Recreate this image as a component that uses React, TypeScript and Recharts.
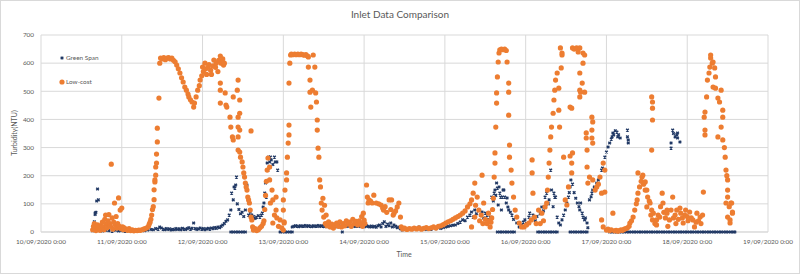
import React from "react";
import { ScatterChart, Scatter, XAxis, YAxis, CartesianGrid } from "recharts";

const FONT = "Lato, 'Open Sans', sans-serif";
const TEXT_GREY = "#595959";
const GRID_GREY = "#d9d9d9";
const NAVY = "#203864";
const ORANGE = "#ED7D31";

// x = days since 10/09/2020 0:00
const dayTicks = [0, 1, 2, 3, 4, 5, 6, 7, 8, 9];
const ntuTicks = [0, 100, 200, 300, 400, 500, 600, 700];
const seriesNames = ["Green Span", "Low-cost"];

// Green Span inlet sensor [day, NTU]
const greenSpan: [number, number][] = [
  [0.64, 5], [0.65, 7], [0.66, 36], [0.67, 67], [0.67, 62], [0.68, 70], [0.69, 110], [0.7, 153], [0.71, 114], [0.72, 20], [0.73, 8],
  [0.76, 4], [0.8, 6], [0.84, 5], [0.88, 3], [0.92, 6], [0.96, 4], [1.0, 5], [1.04, 3], [1.08, 4], [1.12, 6], [1.16, 5], [1.2, 4], [1.24, 6], [1.28, 5], [1.32, 7],
  [1.36, 9], [1.39, 8], [1.42, 12], [1.45, 10], [1.47, 18], [1.49, 14], [1.51, 10], [1.53, 8], [1.55, 12], [1.57, 9], [1.59, 11], [1.61, 7], [1.63, 10], [1.65, 8],
  [1.67, 12], [1.69, 9], [1.71, 11], [1.73, 8], [1.75, 13], [1.77, 10], [1.79, 9], [1.81, 12], [1.83, 15], [1.85, 10], [1.87, 13], [1.89, 32], [1.91, 12], [1.93, 9],
  [1.95, 11], [1.97, 14], [1.99, 10], [2.01, 12], [2.03, 8], [2.05, 11], [2.07, 13], [2.09, 10], [2.11, 14], [2.13, 12], [2.15, 16], [2.17, 13], [2.19, 18], [2.21, 15],
  [2.23, 20], [2.25, 25], [2.27, 30], [2.29, 38], [2.31, 43], [2.33, 60],
  [2.35, 78], [2.36, 138], [2.38, 114], [2.39, 160], [2.4, 156], [2.41, 167], [2.42, 195], [2.43, 100], [2.45, 80], [2.47, 65], [2.49, 70], [2.51, 55], [2.53, 78],
  [2.55, 167], [2.57, 60], [2.59, 70], [2.61, 60], [2.63, 55], [2.65, 48], [2.67, 53], [2.69, 58], [2.71, 53], [2.73, 60], [2.74, 67], [2.75, 89], [2.76, 103],
  [2.77, 138], [2.78, 174], [2.79, 124], [2.8, 245], [2.81, 220], [2.82, 266], [2.83, 249], [2.84, 266], [2.85, 256], [2.87, 240], [2.89, 266], [2.9, 249], [2.92, 249], [2.93, 220],
  [3.11, 18], [3.13, 20], [3.15, 22], [3.17, 21], [3.19, 19], [3.21, 22], [3.23, 20], [3.25, 21], [3.27, 23], [3.29, 20], [3.31, 22], [3.33, 21], [3.35, 19], [3.37, 22],
  [3.39, 20], [3.41, 21], [3.43, 23], [3.45, 20], [3.47, 22], [3.49, 21], [3.51, 19], [3.53, 22], [3.55, 20], [3.57, 21], [3.59, 23], [3.61, 20], [3.63, 22], [3.65, 21],
  [3.67, 19], [3.69, 22], [3.71, 20], [3.73, 0], [3.75, 21], [3.77, 23], [3.79, 20], [3.81, 22], [3.83, 21], [3.85, 19], [3.87, 22], [3.89, 20], [3.91, 21], [3.93, 23],
  [3.95, 20], [3.97, 22], [3.99, 21], [4.01, 19], [4.03, 22], [4.05, 20], [4.07, 18], [4.09, 21], [4.11, 18], [4.13, 20], [4.15, 17], [4.17, 22], [4.19, 25], [4.21, 18],
  [4.23, 30], [4.25, 36], [4.27, 20], [4.29, 28], [4.31, 22], [4.33, 32], [4.35, 18], [4.37, 25], [4.39, 20], [4.41, 15], [4.43, 18], [4.45, 12], [4.47, 7], [4.5, 10],
  [4.53, 8], [4.56, 12], [4.59, 10], [4.62, 14], [4.65, 12], [4.68, 18], [4.71, 11], [4.74, 13], [4.77, 9], [4.8, 12], [4.83, 10], [4.86, 14], [4.89, 12], [4.92, 15],
  [4.95, 13], [4.98, 16], [5.01, 18], [5.04, 20], [5.07, 22], [5.1, 24], [5.13, 25], [5.16, 30], [5.19, 35], [5.22, 43], [5.25, 40], [5.28, 53], [5.31, 60], [5.33, 71],
  [5.35, 53], [5.37, 78], [5.39, 65], [5.42, 78], [5.44, 60], [5.46, 71], [5.48, 50], [5.5, 67], [5.52, 60], [5.54, 45], [5.56, 53], [5.58, 124], [5.6, 110], [5.61, 138],
  [5.62, 149], [5.63, 130], [5.64, 174], [5.65, 156], [5.66, 96], [5.67, 160], [5.68, 138], [5.69, 124], [5.7, 78], [5.71, 124], [5.72, 149], [5.73, 149], [5.74, 124],
  [5.76, 103], [5.77, 121], [5.78, 89], [5.79, 78], [5.81, 70], [5.83, 60], [5.85, 45],
  [5.89, 32], [5.92, 18], [5.95, 25], [5.97, 35], [5.99, 43], [6.01, 30], [6.04, 53], [6.05, 67], [6.07, 45], [6.09, 60], [6.12, 40], [6.14, 55], [6.16, 78], [6.18, 65],
  [6.2, 89], [6.22, 75], [6.24, 124], [6.26, 138], [6.28, 100], [6.29, 114], [6.31, 220], [6.32, 149], [6.34, 90], [6.35, 138], [6.36, 124], [6.37, 124],
  [6.39, 53], [6.41, 32], [6.43, 25], [6.45, 43], [6.47, 60], [6.49, 78], [6.51, 103], [6.53, 124], [6.54, 140], [6.55, 160], [6.56, 185], [6.58, 170], [6.6, 140],
  [6.62, 120], [6.64, 103], [6.66, 90], [6.67, 78], [6.68, 103], [6.7, 67], [6.71, 53], [6.73, 43], [6.74, 50], [6.76, 32], [6.77, 15],
  [6.79, 114], [6.81, 125], [6.82, 138], [6.83, 149], [6.85, 160], [6.88, 174], [6.9, 185], [6.92, 195], [6.94, 220], [6.95, 227], [6.96, 245], [6.98, 266], [7.0, 284],
  [7.02, 302], [7.04, 316], [7.06, 330], [7.07, 338], [7.08, 352], [7.09, 345], [7.11, 360], [7.13, 355], [7.14, 338], [7.15, 345], [7.17, 334],
  [7.26, 362], [7.26, 338], [7.27, 316], [7.27, 327],
  [7.8, 316], [7.8, 298], [7.82, 362], [7.83, 350], [7.85, 338], [7.87, 345], [7.88, 334], [7.88, 352], [7.91, 320],
];

// Green Span readings that dropped out to 0 NTU
const greenSpanZeroDays = [
  2.35, 2.38, 2.41, 2.44, 2.47, 2.5, 2.53,
  2.96, 2.99, 3.02, 3.05, 3.08, 3.11,
  5.65, 5.68, 5.71, 5.74, 5.77, 5.8, 5.83, 5.86,
  6.15, 6.18, 6.21, 6.24, 6.27, 6.3, 6.33, 6.36, 6.39,
  6.55, 6.58, 6.61, 6.64, 6.67, 6.7, 6.73, 6.76,
  7.04, 7.07, 7.1, 7.13, 7.16, 7.19, 7.22, 7.25, 7.28, 7.31, 7.34, 7.37, 7.4, 7.43, 7.46, 7.49, 7.52, 7.55, 7.58, 7.61,
  7.64, 7.67, 7.7, 7.73, 7.76, 7.79, 7.82, 7.85, 7.88, 7.91, 7.94, 7.97, 8.0, 8.03, 8.06, 8.09, 8.12, 8.15, 8.18, 8.21,
  8.24, 8.27, 8.3, 8.33, 8.36, 8.39, 8.42, 8.45, 8.48, 8.51, 8.54, 8.57, 8.59,
];

// Low-cost inlet sensor [day, NTU]
const lowCost: [number, number][] = [
  [0.64, 8], [0.65, 20], [0.66, 30], [0.67, 12], [0.68, 5], [0.69, 18], [0.7, 25], [0.71, 10], [0.72, 15], [0.73, 6], [0.74, 22], [0.75, 12], [0.76, 35], [0.77, 18],
  [0.78, 8], [0.79, 45], [0.8, 60], [0.81, 28], [0.82, 15], [0.83, 40], [0.84, 62], [0.85, 30], [0.86, 20], [0.87, 241], [0.88, 50], [0.89, 10], [0.9, 35], [0.91, 103],
  [0.92, 25], [0.93, 55], [0.94, 14], [0.95, 30], [0.96, 121], [0.97, 20], [0.98, 78], [0.99, 12], [1.0, 85], [1.01, 18], [1.02, 8], [1.03, 15], [1.05, 10], [1.07, 6],
  [1.09, 12], [1.11, 5], [1.13, 8], [1.15, 4], [1.17, 6], [1.19, 5], [1.21, 7], [1.23, 6], [1.25, 8], [1.27, 10], [1.29, 12], [1.31, 15], [1.33, 20], [1.34, 28],
  [1.35, 35], [1.36, 45], [1.37, 60], [1.38, 80], [1.39, 90], [1.4, 115], [1.4, 150], [1.41, 178], [1.41, 185], [1.42, 202], [1.42, 231], [1.43, 245], [1.43, 277],
  [1.44, 320], [1.44, 369], [1.46, 476], [1.47, 600],
  [1.48, 618], [1.5, 615], [1.52, 620], [1.54, 612], [1.56, 618], [1.58, 620], [1.6, 615], [1.62, 618], [1.64, 610], [1.66, 605], [1.68, 593], [1.7, 580], [1.72, 565],
  [1.74, 548], [1.76, 533], [1.78, 515], [1.8, 504], [1.82, 490], [1.83, 480], [1.85, 470], [1.87, 462], [1.89, 444], [1.9, 458], [1.92, 480], [1.94, 504], [1.96, 520],
  [1.97, 540], [1.99, 555], [2.0, 586], [2.01, 570], [2.03, 600], [2.04, 580], [2.05, 560], [2.07, 586], [2.08, 595], [2.1, 575], [2.11, 560], [2.13, 590], [2.14, 611],
  [2.16, 585], [2.17, 600], [2.19, 570], [2.2, 610], [2.22, 625], [2.23, 600], [2.25, 615], [2.26, 593], [2.27, 600],
  [2.22, 458], [2.22, 529], [2.22, 504], [2.28, 494], [2.29, 451], [2.3, 444], [2.34, 408], [2.35, 373], [2.37, 338], [2.38, 327], [2.38, 480], [2.43, 504], [2.44, 540],
  [2.44, 408], [2.44, 373], [2.44, 338], [2.44, 291], [2.46, 469], [2.46, 422], [2.46, 362], [2.46, 284], [2.47, 266], [2.49, 249], [2.5, 231], [2.51, 210], [2.52, 195],
  [2.53, 174], [2.54, 160], [2.55, 149], [2.56, 124], [2.57, 114], [2.58, 103], [2.59, 78], [2.6, 359], [2.6, 53], [2.61, 43], [2.62, 18], [2.63, 7], [2.65, 12],
  [2.67, 5], [2.69, 8], [2.71, 15], [2.73, 20], [2.75, 30], [2.76, 40], [2.77, 80], [2.78, 130], [2.79, 180], [2.8, 220], [2.81, 263], [2.83, 231], [2.83, 185],
  [2.84, 103], [2.86, 149], [2.87, 114], [2.87, 32], [2.89, 60], [2.91, 124], [2.91, 78], [2.92, 50], [2.94, 20], [2.96, 43], [2.98, 15], [3.0, 7], [3.0, 114], [3.0, 78],
  [3.01, 36], [3.01, 32], [3.02, 149], [3.04, 185], [3.04, 210], [3.05, 266], [3.06, 316], [3.07, 345], [3.07, 380], [3.07, 529], [3.08, 600], [3.09, 629],
  [3.1, 632], [3.12, 630], [3.14, 632], [3.16, 630], [3.18, 632], [3.2, 630], [3.22, 632], [3.24, 630], [3.26, 628], [3.28, 630], [3.3, 625], [3.31, 622], [3.31, 586],
  [3.33, 540], [3.33, 497], [3.34, 444], [3.36, 504], [3.37, 629], [3.39, 586], [3.4, 494], [3.41, 462], [3.42, 398], [3.42, 362], [3.43, 298], [3.44, 266],
  [3.45, 185], [3.46, 160], [3.47, 103], [3.48, 78], [3.49, 120], [3.5, 53], [3.51, 95], [3.52, 30], [3.53, 60], [3.54, 22], [3.56, 36], [3.58, 18], [3.6, 28],
  [3.62, 14], [3.64, 25], [3.66, 32], [3.68, 20], [3.7, 36], [3.72, 18], [3.74, 30], [3.76, 22], [3.78, 40], [3.8, 28], [3.82, 35], [3.84, 20], [3.86, 45], [3.88, 30],
  [3.9, 38], [3.92, 25], [3.94, 40], [3.96, 30], [3.97, 55], [3.98, 20], [3.99, 67], [4.0, 42], [4.01, 30],
  [4.03, 167], [4.04, 124], [4.05, 103], [4.06, 114], [4.08, 110], [4.1, 103], [4.12, 131], [4.15, 103], [4.18, 100], [4.21, 96], [4.23, 85], [4.24, 78], [4.26, 90],
  [4.28, 70], [4.31, 114], [4.33, 80], [4.34, 114], [4.36, 60], [4.37, 67], [4.39, 75], [4.41, 89], [4.43, 103], [4.45, 53], [4.46, 18],
  [4.48, 11], [4.5, 14], [4.53, 9], [4.56, 12], [4.59, 10], [4.62, 14], [4.65, 11], [4.68, 15], [4.71, 10], [4.74, 13], [4.77, 16], [4.8, 12], [4.83, 15], [4.86, 18],
  [4.89, 14], [4.92, 20], [4.95, 22], [4.98, 26], [5.01, 32], [5.04, 36], [5.07, 40], [5.1, 45], [5.13, 50], [5.16, 55], [5.19, 60], [5.22, 67], [5.25, 75], [5.28, 89],
  [5.31, 100], [5.33, 114], [5.33, 18], [5.35, 138],
  [5.37, 174], [5.37, 53], [5.38, 95], [5.4, 124], [5.42, 78], [5.43, 40], [5.45, 60], [5.46, 202], [5.47, 30], [5.48, 103], [5.5, 45], [5.52, 30], [5.54, 67], [5.55, 40],
  [5.56, 18], [5.57, 35], [5.58, 50], [5.59, 80], [5.6, 120], [5.61, 195], [5.62, 245], [5.62, 281], [5.63, 373], [5.64, 458], [5.64, 494], [5.65, 551], [5.66, 604],
  [5.67, 636], [5.68, 647], [5.7, 650], [5.72, 648], [5.74, 650], [5.76, 645], [5.77, 604], [5.79, 529], [5.79, 497], [5.79, 415], [5.8, 309], [5.8, 266], [5.82, 220],
  [5.83, 174], [5.85, 124], [5.87, 78], [5.89, 53], [5.92, 32], [5.95, 18], [5.98, 18], [6.01, 25], [6.04, 32], [6.07, 43], [6.08, 256], [6.08, 210], [6.09, 138],
  [6.11, 53], [6.13, 30], [6.16, 78], [6.18, 30], [6.2, 67], [6.22, 40], [6.24, 89], [6.26, 103], [6.27, 149], [6.28, 195], [6.29, 245], [6.3, 291], [6.31, 338],
  [6.32, 373], [6.34, 422], [6.35, 469], [6.36, 504], [6.37, 540], [6.39, 565], [6.41, 511], [6.41, 433], [6.42, 373], [6.43, 654], [6.44, 583], [6.45, 636], [6.45, 629],
  [6.47, 266], [6.49, 114], [6.51, 96], [6.53, 160], [6.55, 444], [6.55, 270],
  [6.57, 440], [6.57, 245], [6.57, 210], [6.58, 654], [6.58, 281], [6.6, 650], [6.63, 654], [6.65, 640], [6.67, 654], [6.67, 565], [6.67, 504], [6.67, 480], [6.68, 497],
  [6.7, 529], [6.71, 636], [6.71, 600], [6.73, 629], [6.73, 497], [6.75, 352], [6.75, 334], [6.76, 291], [6.76, 231], [6.77, 174], [6.79, 195], [6.82, 408], [6.82, 362],
  [6.82, 334], [6.83, 391], [6.83, 316], [6.83, 185], [6.86, 149], [6.88, 160], [6.9, 170], [6.92, 195], [6.94, 138], [6.94, 43], [6.96, 245], [6.96, 18], [6.98, 220],
  [6.98, 142], [7.0, 7], [7.02, 10], [7.04, 5], [7.06, 8], [7.08, 67], [7.1, 4], [7.12, 6], [7.14, 3], [7.16, 5], [7.18, 8], [7.2, 6], [7.22, 10], [7.24, 12], [7.26, 15],
  [7.28, 20], [7.29, 32], [7.31, 40], [7.33, 53], [7.35, 78], [7.37, 100], [7.38, 114], [7.39, 138], [7.39, 210], [7.41, 160], [7.43, 180], [7.44, 195], [7.45, 202],
  [7.46, 170], [7.48, 178], [7.48, 149], [7.5, 149], [7.5, 89], [7.51, 124], [7.53, 110], [7.54, 103], [7.55, 60], [7.56, 78], [7.56, 480], [7.57, 462], [7.57, 440],
  [7.57, 398], [7.56, 291], [7.57, 43], [7.58, 67], [7.6, 30], [7.62, 25], [7.62, 43], [7.64, 60], [7.66, 53], [7.67, 90], [7.69, 138], [7.7, 103], [7.71, 70], [7.73, 50],
  [7.75, 67], [7.75, 78], [7.76, 20], [7.78, 43],
  [7.8, 78], [7.82, 124], [7.83, 50], [7.85, 60], [7.86, 30], [7.87, 78], [7.89, 45], [7.91, 85], [7.92, 67], [7.94, 50], [7.95, 32], [7.97, 60], [7.98, 78], [8.0, 55],
  [8.01, 40], [8.03, 71], [8.05, 50], [8.07, 43], [8.09, 18], [8.11, 35], [8.12, 67], [8.14, 40], [8.16, 53], [8.17, 30], [8.19, 60], [8.2, 142], [8.21, 408], [8.22, 426],
  [8.22, 362], [8.22, 345], [8.24, 480], [8.25, 540], [8.27, 565], [8.28, 586], [8.29, 618], [8.29, 629], [8.31, 600], [8.32, 604], [8.32, 515], [8.34, 583], [8.35, 551],
  [8.35, 511], [8.38, 476], [8.38, 338], [8.4, 462], [8.42, 504], [8.42, 373], [8.44, 433], [8.44, 408], [8.44, 327], [8.46, 300], [8.47, 266], [8.48, 220], [8.48, 103],
  [8.49, 200], [8.5, 185], [8.5, 149], [8.5, 124], [8.5, 53], [8.52, 90], [8.53, 32], [8.53, 43], [8.54, 103], [8.55, 103], [8.56, 67], [8.56, 71],
];

const toPoints = (rows: [number, number][]) => rows.map(([day, ntu]) => ({ day, ntu }));
const greenSpanPoints = [...toPoints(greenSpan), ...greenSpanZeroDays.map((day) => ({ day, ntu: 0 }))];
const lowCostPoints = toPoints(lowCost);

const formatDay = (d: number) => `${10 + d}/09/2020 0:00`;

function NavyCross(props: any) {
  const { cx, cy } = props;
  if (cx == null || cy == null) return null;
  const s = 1.3;
  return (
    <path
      d={`M${cx - s},${cy - s}L${cx + s},${cy + s}M${cx + s},${cy - s}L${cx - s},${cy + s}`}
      stroke={NAVY}
      strokeWidth={1.4}
    />
  );
}

function OrangeDot(props: any) {
  const { cx, cy } = props;
  if (cx == null || cy == null) return null;
  return <circle cx={cx} cy={cy} r={2.6} fill={ORANGE} />;
}

const tickStyle = { fill: TEXT_GREY, fontSize: 6.4, fontFamily: FONT };

export default function App() {
  return (
    <div
      style={{
        position: "absolute",
        left: 0,
        top: 0,
        width: 800,
        height: 274,
        background: "#fff",
        fontFamily: FONT,
        color: TEXT_GREY,
      }}
    >
      <div
        style={{
          position: "absolute",
          inset: 0,
          border: `1px solid ${GRID_GREY}`,
          boxSizing: "border-box",
        }}
      />
      <div style={{ position: "absolute", left: 0, top: 0 }}>
        <ScatterChart width={800} height={274} margin={{ top: 35, right: 32, bottom: 12, left: 0 }}>
          <CartesianGrid stroke={GRID_GREY} strokeWidth={1} />
          <XAxis
            dataKey="day"
            type="number"
            domain={[0, 9]}
            ticks={dayTicks}
            tickFormatter={formatDay}
            tick={tickStyle}
            tickLine={false}
            tickSize={5}
            tickMargin={2}
            axisLine={{ stroke: GRID_GREY }}
            height={30}
            interval={0}
          />
          <YAxis
            dataKey="ntu"
            type="number"
            domain={[0, 700]}
            ticks={ntuTicks}
            tick={tickStyle}
            tickLine={false}
            tickSize={5}
            tickMargin={2}
            axisLine={false}
            width={41}
          />
          <Scatter name={seriesNames[0]} data={greenSpanPoints} shape={NavyCross} isAnimationActive={false} />
          <Scatter name={seriesNames[1]} data={lowCostPoints} shape={OrangeDot} isAnimationActive={false} />
        </ScatterChart>
      </div>

      <div style={{ position: "absolute", left: 0, width: 800, top: 7, textAlign: "center", fontSize: 10, lineHeight: "14px" }}>
        Inlet Data Comparison
      </div>
      <div
        style={{
          position: "absolute",
          left: 14,
          top: 133,
          transform: "translate(-50%, -50%) rotate(-90deg)",
          fontSize: 7,
          whiteSpace: "nowrap",
        }}
      >
        Turbidity(NTU)
      </div>
      <div style={{ position: "absolute", left: 404, top: 254, transform: "translate(-50%, -50%)", fontSize: 7 }}>Time</div>

      {/* legend sits inside the plot, top-left */}
      <svg style={{ position: "absolute", left: 0, top: 0 }} width={800} height={274}>
        <NavyCross cx={62} cy={58} />
        <text x={66} y={58} dy="0.35em" fontSize={6.4} fontFamily={FONT} fill={TEXT_GREY}>
          {seriesNames[0]}
        </text>
        <OrangeDot cx={62} cy={82} />
        <text x={66} y={82} dy="0.35em" fontSize={6.4} fontFamily={FONT} fill={TEXT_GREY}>
          {seriesNames[1]}
        </text>
      </svg>
    </div>
  );
}
